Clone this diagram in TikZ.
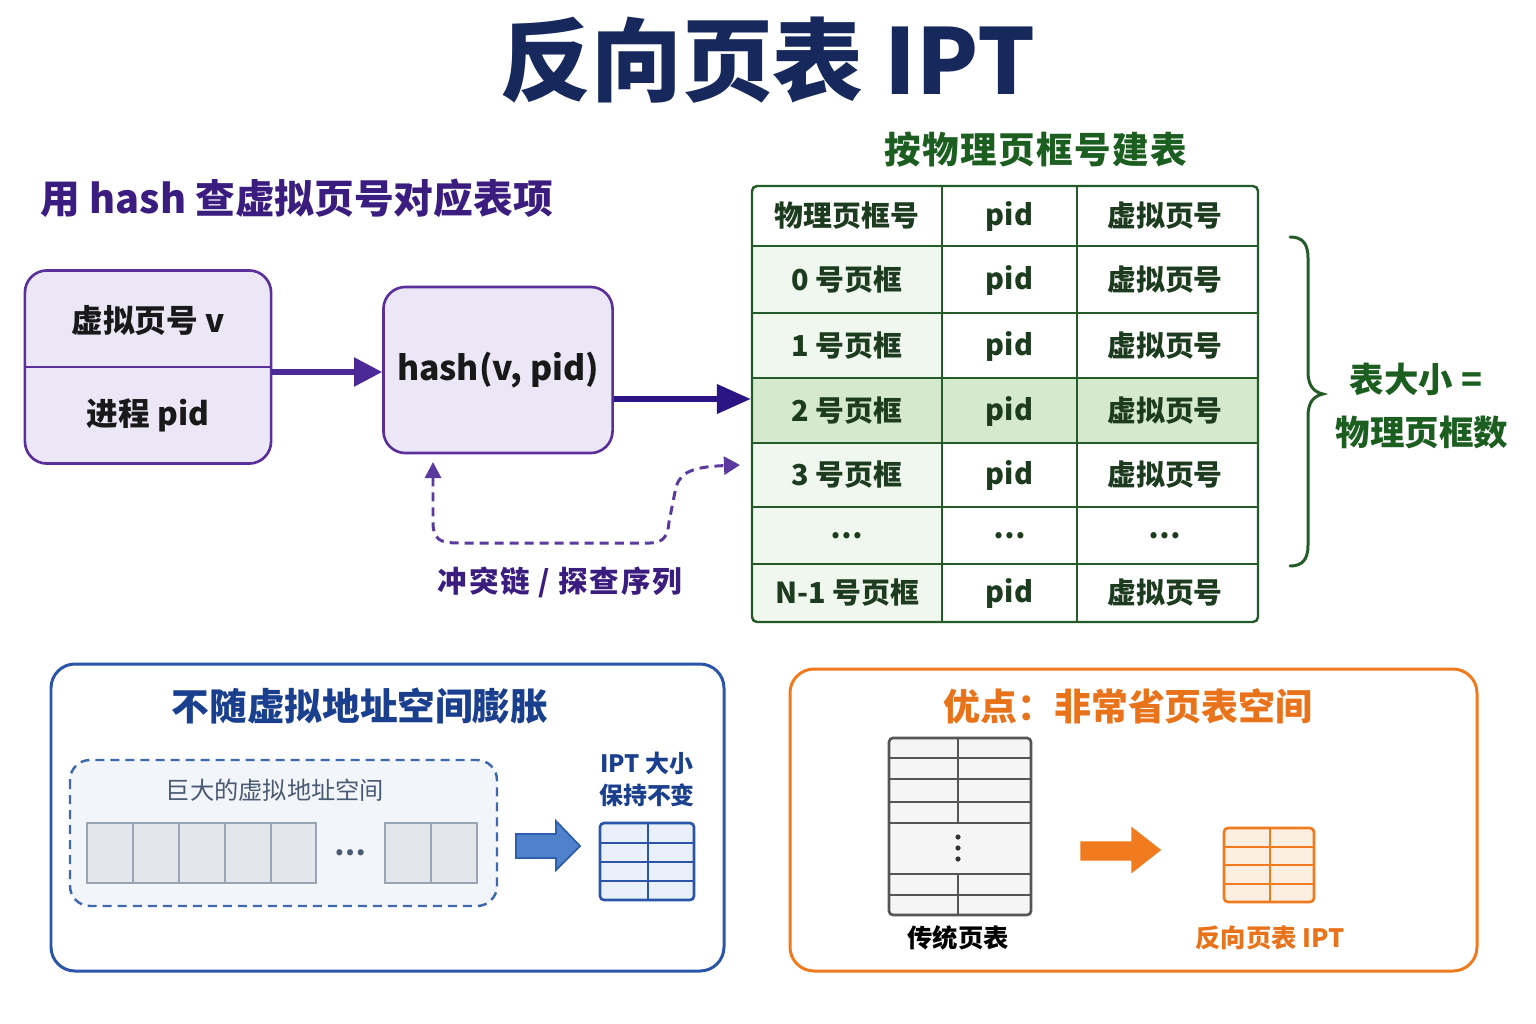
\documentclass[tikz,border=0pt]{standalone}
\usepackage{fontspec}
\setmainfont{Noto Sans CJK SC}
\usetikzlibrary{arrows.meta}
\definecolor{navy}{HTML}{16285C}
\definecolor{purp}{HTML}{3B1D80}
\definecolor{pborder}{HTML}{5A2F9C}
\definecolor{pfill}{HTML}{ECE7F6}
\definecolor{parrow}{HTML}{4B2A98}
\definecolor{parrowb}{HTML}{2B1585}
\definecolor{pdash}{HTML}{5B3AA0}
\definecolor{gline}{HTML}{235C29}
\definecolor{gtext}{HTML}{1D3B1F}
\definecolor{gtitle}{HTML}{1B5E20}
\definecolor{gcol}{HTML}{F0F7EE}
\definecolor{ghi}{HTML}{D5EACD}
\definecolor{bline}{HTML}{2A55A8}
\definecolor{btext}{HTML}{1A3F8F}
\definecolor{bdash}{HTML}{4068B0}
\definecolor{bbg}{HTML}{F2F5FA}
\definecolor{cellf}{HTML}{E3E6EA}
\definecolor{celld}{HTML}{9AA5B3}
\definecolor{graytxt}{HTML}{4A5A73}
\definecolor{barrow}{HTML}{4F82CB}
\definecolor{barrowd}{HTML}{2E5FAE}
\definecolor{bsmall}{HTML}{E9F0FA}
\definecolor{orng}{HTML}{F07A1E}
\definecolor{otext}{HTML}{E8731A}
\definecolor{osmall}{HTML}{FDEEE2}
\definecolor{tgray}{HTML}{555555}
\definecolor{tfill}{HTML}{F5F5F5}
\tikzset{
  pbox/.style={draw=pborder, fill=pfill, line width=0.75pt, rounded corners=2.2mm, inner sep=0pt},
  boxtxt/.style={font=\fontsize{9pt}{10pt}\selectfont\bfseries, text=black!90},
  tcell/.style={font=\fontsize{8.2pt}{9pt}\selectfont\bfseries, text=gtext},
  gridl/.style={draw=gline, line width=0.7pt},
  panel/.style={line width=0.85pt, rounded corners=2.4mm, fill=white},
  bigarrow/.style={line width=1.6pt, -{Triangle[length=2.8mm,width=2.8mm]}},
  dasharrow/.style={draw=pdash, line width=0.85pt, dash pattern=on 0.9mm off 0.6mm,
     {Triangle[length=1.6mm,width=1.6mm]}-{Triangle[length=1.6mm,width=1.8mm]}},
}
\begin{document}
\begin{tikzpicture}[x=0.01cm,y=-0.01cm]
\useasboundingbox[fill=white] (0,0) rectangle (1536,1024);

% title
\node[font=\fontsize{25.8pt}{28pt}\selectfont\bfseries, text=navy] (title) at (768,60) {反向页表 IPT};

% left heading
\node[font=\fontsize{11.3pt}{13pt}\selectfont\bfseries, text=purp, anchor=west, inner sep=0pt] (lhead) at (40,198) {用 hash 查虚拟页号对应表项};

% left input box
\node[pbox, minimum width=2.46cm, minimum height=1.93cm] (lbox) at (148,367) {};
\draw[draw=pborder, line width=0.75pt] (lbox.west) -- (lbox.east);
\node[boxtxt] (lv) at (148,320) {虚拟页号 v};
\node[boxtxt] (lp) at (148,415) {进程 pid};

% hash box
\node[pbox, minimum width=2.29cm, minimum height=1.66cm,
      font=\fontsize{9.6pt}{11pt}\selectfont\bfseries, text=black!90] (hash) at (498,370) {hash(v, pid)};

\coordinate (y372) at (0,372);
\draw[bigarrow, draw=parrow, line width=1.5pt] (lbox.east |- y372) -- (hash.west |- y372);

% arrow into table
\coordinate (tin) at (751,399);
\draw[bigarrow, draw=parrowb, line width=1.9pt, -{Triangle[length=3.4mm,width=2.8mm]}] (hash.east |- tin) -- (tin);

% dashed collision arrow
\coordinate (dA) at (433,462);
\coordinate (dB) at (740,465);
\draw[dasharrow] (dA) -- (433,522) .. controls (433,540) and (440,543) .. (459,543)
  -- (650,543) .. controls (664,543) and (668,535) .. (669,522)
  -- (675,492) .. controls (678,474) and (688,467) .. (dB);
\node[font=\fontsize{8.4pt}{10pt}\selectfont\bfseries\addfontfeature{LetterSpace=6}, text=purp] (dlab) at (560,582) {冲突链 / 探查序列};

% table title
\node[font=\fontsize{10.4pt}{12pt}\selectfont\bfseries\addfontfeature{LetterSpace=4}, text=gtitle] (ttitle) at (1036,150) {按物理页框号建表};

% table fills
\fill[white] (752,186) rectangle (1258,622);
\fill[gcol] (752,246) rectangle (942,622);
\fill[ghi] (752,378) rectangle (1258,443);
% grid lines
\foreach \yy in {246,313,378,443,507,564} \draw[gridl] (752,\yy) -- (1258,\yy);
\foreach \xx in {942,1077} \draw[gridl] (\xx,186) -- (\xx,622);
\draw[gridl, rounded corners=0.5mm] (752,186) rectangle (1258,622);

% table texts
\foreach \r/\yc/\a/\b/\c in {0/216/物理页框号/pid/虚拟页号, 1/280/0 号页框/pid/虚拟页号,
   2/346/1 号页框/pid/虚拟页号, 3/411/2 号页框/pid/虚拟页号, 4/475/3 号页框/pid/虚拟页号,
   5/536/…/…/…, 6/593/N-1 号页框/pid/虚拟页号}{
  \node[tcell] (t\r a) at (847,\yc) {\a};
  \node[tcell] (t\r b) at (1009.5,\yc) {\b};
  \node[tcell] (t\r c) at (1165,\yc) {\c};
}

% brace
\draw[draw=gline, line width=0.85pt, line cap=round]
  (1290,237) .. controls (1302,237) and (1308,243) .. (1308,258)
  -- (1308,372) .. controls (1308,386) and (1314,392) .. (1323,394)
  .. controls (1314,396) and (1308,402) .. (1308,416)
  -- (1308,545) .. controls (1308,560) and (1302,566) .. (1290,566);
\node[font=\fontsize{9.8pt}{11pt}\selectfont\bfseries, text=gtitle] (bs1) at (1416,379) {表大小 =};
\node[font=\fontsize{9.8pt}{11pt}\selectfont\bfseries, text=gtitle] (bs2) at (1422,432) {物理页框数};

% ---------- bottom left panel ----------
\draw[panel, draw=bline] (51,664) rectangle (724,971);
\node[font=\fontsize{10.7pt}{12pt}\selectfont\bfseries, text=btext] (blt) at (360,706) {不随虚拟地址空间膨胀};
\draw[draw=bdash, fill=bbg, line width=0.7pt, dash pattern=on 0.9mm off 0.6mm, rounded corners=2mm] (70,760) rectangle (497,906);
\node[font=\fontsize{6.9pt}{8pt}\selectfont, text=graytxt] (vas) at (275,790) {巨大的虚拟地址空间};
\foreach \xa/\xb in {87/133,133/179,179/225,225/271,271/316,385/431,431/477}
  \draw[fill=cellf, draw=celld, line width=0.6pt] (\xa,823) rectangle (\xb,883);
\node[font=\fontsize{8pt}{9pt}\selectfont\bfseries, text=graytxt] (vdots) at (350,853) {…};
\draw[fill=barrow, draw=barrowd, line width=0.5pt]
  (516,834) -- (556,834) -- (556,821) -- (580,846) -- (556,870) -- (556,858) -- (516,858) -- cycle;
\node[font=\fontsize{6.8pt}{8pt}\selectfont\bfseries, text=btext, align=center] (iptl1) at (647,763) {IPT 大小};
\node[font=\fontsize{6.8pt}{8pt}\selectfont\bfseries, text=btext, align=center] (iptl2) at (647,795) {保持不变};
\draw[fill=bsmall, draw=bline, line width=0.75pt, rounded corners=0.4mm] (600,823) rectangle (694,900);
\foreach \yy in {843,862,881} \draw[draw=bline, line width=0.6pt] (600,\yy) -- (694,\yy);
\draw[draw=bline, line width=0.6pt] (648,823) -- (648,900);

% ---------- bottom right panel ----------
\draw[panel, draw=orng] (790,669) rectangle (1477,971);
\node[font=\fontsize{10.5pt}{12pt}\selectfont\bfseries, text=otext] (brt) at (1128,706) {优点：非常省页表空间};
\draw[fill=tfill, draw=tgray, line width=0.75pt, rounded corners=0.4mm] (889,738) rectangle (1031,915);
\foreach \yy in {758,779,802,823,874,895} \draw[draw=tgray, line width=0.7pt] (889,\yy) -- (1031,\yy);
\draw[draw=tgray, line width=0.6pt] (958,738) -- (958,823);
\draw[draw=tgray, line width=0.6pt] (958,874) -- (958,915);
\foreach \yy in {837,848,859} \fill[black!80] (958,\yy) circle (2.6);
\node[font=\fontsize{7.2pt}{8pt}\selectfont\bfseries, text=black] (tradl) at (958,938) {传统页表};
\draw[fill=orng, draw=orng]
  (1081,842) -- (1132,842) -- (1132,828) -- (1160,850) -- (1132,872) -- (1132,860) -- (1081,860) -- cycle;
\draw[fill=osmall, draw=orng, line width=0.75pt, rounded corners=0.4mm] (1224,828) rectangle (1314,902);
\foreach \yy in {847,865,884} \draw[draw=orng, line width=0.6pt] (1224,\yy) -- (1314,\yy);
\draw[draw=orng, line width=0.6pt] (1270,828) -- (1270,902);
\node[font=\fontsize{7.2pt}{8pt}\selectfont\bfseries, text=otext] (iptr) at (1270,938) {反向页表 IPT};
\end{tikzpicture}
\end{document}
